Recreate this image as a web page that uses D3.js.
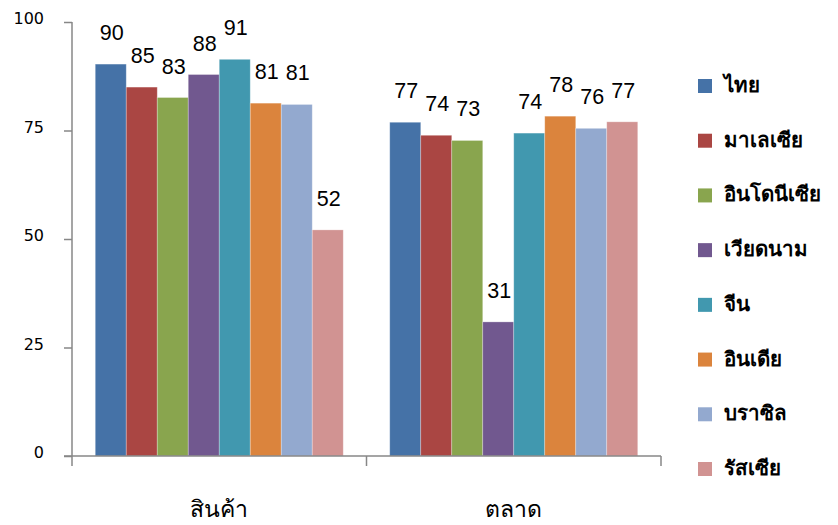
<!DOCTYPE html>
<html><head><meta charset="utf-8">
<script src="https://cdn.jsdelivr.net/npm/d3@7"></script>
<style>
html,body{margin:0;padding:0;background:#fff;}
svg{display:block;}
</style>
</head><body>
<svg id="chart" width="838" height="525"></svg>
<script>
const categories = ["สินค้า", "ตลาด"];
const seriesNames = ["ไทย", "มาเลเซีย", "อินโดนีเซีย", "เวียดนาม", "จีน", "อินเดีย", "บราซิล", "รัสเซีย"];
const thai      = [90.3, 76.9];
const malaysia  = [85.0, 73.9];
const indonesia = [82.6, 72.7];
const vietnam   = [87.9, 30.9];
const china     = [91.4, 74.4];
const india     = [81.3, 78.3];
const brazil    = [81.0, 75.5];
const russia    = [52.1, 77.0];
const yTicks = [0, 25, 50, 75, 100];
const colors = ["#4572A7", "#AA4643", "#89A54E", "#71588F", "#4198AF", "#DB843D", "#93A9CF", "#D19392"];

const seriesValues = [thai, malaysia, indonesia, vietnam, china, india, brazil, russia];

const svg = d3.select("#chart");
const mLeft = 72, mRight = 661, mTop = 22, mBottom = 456;

const y = d3.scaleLinear().domain([0, 100]).range([mBottom, mTop]);
const x0 = d3.scaleBand().domain(categories).range([mLeft, mRight]).paddingInner(0).paddingOuter(0);
const x1 = d3.scaleBand().domain(seriesNames).range([0, x0.bandwidth()]).paddingInner(0).paddingOuter(0.75);

const axisColor = "#878787";
const numFont = "'Liberation Sans', Arial, sans-serif";
const thaiFont = "Tahoma, 'Noto Sans', 'DejaVu Sans', sans-serif";

// bars
const groups = svg.append("g").selectAll("g")
  .data(categories)
  .join("g")
  .attr("transform", c => `translate(${x0(c)},0)`);

groups.each(function(c, ci) {
  const g = d3.select(this);
  seriesNames.forEach((s, si) => {
    const v = seriesValues[si][ci];
    g.append("rect")
      .attr("x", x1(s))
      .attr("y", y(v))
      .attr("width", x1.bandwidth())
      .attr("height", y(0) - y(v))
      .attr("fill", colors[si])
      .attr("stroke", "rgba(255,255,255,0.35)")
      .attr("stroke-width", 0.8);
    g.append("text")
      .attr("x", x1(s) + x1.bandwidth() / 2 + 1)
      .attr("y", y(v) - 24)
      .attr("text-anchor", "middle")
      .attr("font-family", numFont)
      .attr("font-size", 21.5)
      .attr("fill", "#000")
      .text(Math.round(v));
  });
});

// y axis
const yAxis = d3.axisLeft(y).tickValues(yTicks).tickSize(8).tickPadding(20).tickFormat(d3.format("d"));
const gy = svg.append("g").attr("transform", `translate(${mLeft},0)`).call(yAxis);
gy.select(".domain").attr("stroke", axisColor).attr("stroke-width", 1.5).attr("d", `M0,${mTop}V${mBottom}`);
gy.selectAll(".tick line").attr("stroke", axisColor).attr("stroke-width", 1.5);
gy.selectAll(".tick text").attr("font-family", "'DejaVu Sans', Verdana, sans-serif").attr("font-size", 16).attr("fill", "#000").attr("dy", "0.1em");

// x axis
const gx = svg.append("g").attr("transform", `translate(0,${mBottom})`);
gx.append("line").attr("x1", mLeft - 8).attr("x2", mRight).attr("y1", 0).attr("y2", 0)
  .attr("stroke", axisColor).attr("stroke-width", 1.5);
const xBounds = [mLeft].concat(categories.map(c => x0(c) + x0.bandwidth()));
gx.selectAll("line.tk").data(xBounds).join("line").attr("class", "tk")
  .attr("x1", d => d).attr("x2", d => d).attr("y1", 0).attr("y2", 10)
  .attr("stroke", axisColor).attr("stroke-width", 1.5);
gx.selectAll("text.cat").data(categories).join("text").attr("class", "cat")
  .attr("x", d => x0(d) + x0.bandwidth() / 2)
  .attr("y", 61)
  .attr("text-anchor", "middle")
  .attr("font-family", thaiFont)
  .attr("font-size", 23)
  .attr("font-weight", 500)
  .attr("fill", "#000")
  .text(d => d);

// legend
const legend = svg.append("g").attr("transform", "translate(698,0)");
const ly = d3.scalePoint().domain(seriesNames).range([86, 469]);
const li = legend.selectAll("g").data(seriesNames).join("g")
  .attr("transform", d => `translate(0,${ly(d)})`);
li.append("rect").attr("x", 0).attr("y", -7).attr("width", 14).attr("height", 14)
  .attr("fill", (d, i) => colors[i]);
li.append("text").attr("x", 26).attr("y", 6)
  .attr("font-family", thaiFont)
  .attr("font-size", 20.5)
  .attr("font-weight", 600)
  .attr("fill", "#000")
  .text(d => d);
</script>
</body></html>
